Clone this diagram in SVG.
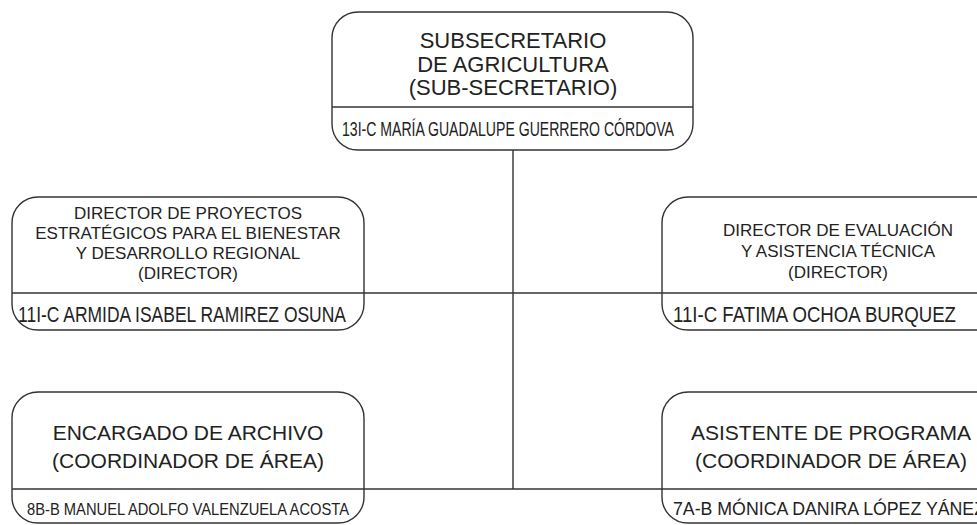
<svg xmlns="http://www.w3.org/2000/svg" width="977" height="525" viewBox="0 0 977 525">
<style>
.box{fill:#fff;stroke:#333;stroke-width:1.4}
.div{stroke:#333;stroke-width:1.4}
.con{stroke:#333;stroke-width:1.4;fill:none}
.t{font-family:"Liberation Sans",Arial,sans-serif;fill:#222;text-anchor:middle}
.n{font-family:"Liberation Sans Narrow","Liberation Sans",Arial,sans-serif;fill:#222;text-anchor:middle}
</style>
<rect width="977" height="525" fill="#fff"/>
<g id="connectors">
<line class="con" x1="513" y1="150" x2="513" y2="489"/>
<line class="con" x1="364" y1="293" x2="662" y2="293"/>
<line class="con" x1="364" y1="489" x2="662" y2="489"/>
</g>
<g id="node-subsecretario">
<rect class="box" x="332" y="12" width="361" height="138" rx="26"/>
<line class="div" x1="332" y1="107" x2="693" y2="107"/>
<text class="t" x="513" y="48" font-size="22">SUBSECRETARIO</text>
<text class="t" x="513" y="72" font-size="22">DE AGRICULTURA</text>
<text class="t" x="513" y="95" font-size="22">(SUB-SECRETARIO)</text>
<text class="n" x="508" y="136" font-size="21" textLength="332" lengthAdjust="spacingAndGlyphs">13I-C MARÍA GUADALUPE GUERRERO CÓRDOVA</text>
</g>
<g id="node-director-proyectos">
<rect class="box" x="12" y="197" width="352" height="133" rx="26"/>
<line class="div" x1="12" y1="293" x2="364" y2="293"/>
<text class="t" x="188" y="219" font-size="17">DIRECTOR DE PROYECTOS</text>
<text class="t" x="188" y="239" font-size="17">ESTRATÉGICOS PARA EL BIENESTAR</text>
<text class="t" x="188" y="259" font-size="17">Y DESARROLLO REGIONAL</text>
<text class="t" x="188" y="279" font-size="17">(DIRECTOR)</text>
<text class="n" x="182" y="322" font-size="22" textLength="328" lengthAdjust="spacingAndGlyphs">11I-C ARMIDA ISABEL RAMIREZ OSUNA</text>
</g>
<g id="node-director-evaluacion">
<rect class="box" x="662" y="197" width="352" height="133" rx="26"/>
<line class="div" x1="662" y1="293" x2="977" y2="293"/>
<text class="t" x="838" y="236" font-size="17">DIRECTOR DE EVALUACIÓN</text>
<text class="t" x="838" y="257" font-size="17">Y ASISTENCIA TÉCNICA</text>
<text class="t" x="838" y="278" font-size="17">(DIRECTOR)</text>
<text class="n" x="673" y="322" font-size="22" style="text-anchor:start" textLength="283" lengthAdjust="spacingAndGlyphs">11I-C FATIMA OCHOA BURQUEZ</text>
</g>
<g id="node-encargado-archivo">
<rect class="box" x="12" y="392" width="352" height="131" rx="26"/>
<line class="div" x1="12" y1="489" x2="364" y2="489"/>
<text class="t" x="188" y="440" font-size="21">ENCARGADO DE ARCHIVO</text>
<text class="t" x="188" y="468" font-size="21">(COORDINADOR DE ÁREA)</text>
<text class="n" x="188" y="515" font-size="17" textLength="322" lengthAdjust="spacingAndGlyphs">8B-B  MANUEL ADOLFO VALENZUELA ACOSTA</text>
</g>
<g id="node-asistente-programa">
<rect class="box" x="662" y="392" width="352" height="131" rx="26"/>
<line class="div" x1="662" y1="489" x2="977" y2="489"/>
<text class="t" x="831" y="440" font-size="21">ASISTENTE DE PROGRAMA</text>
<text class="t" x="831" y="468" font-size="21">(COORDINADOR DE ÁREA)</text>
<text class="n" x="673" y="515" font-size="19" style="text-anchor:start" textLength="312" lengthAdjust="spacingAndGlyphs">7A-B  MÓNICA DANIRA LÓPEZ YÁNEZ</text>
</g>
</svg>
